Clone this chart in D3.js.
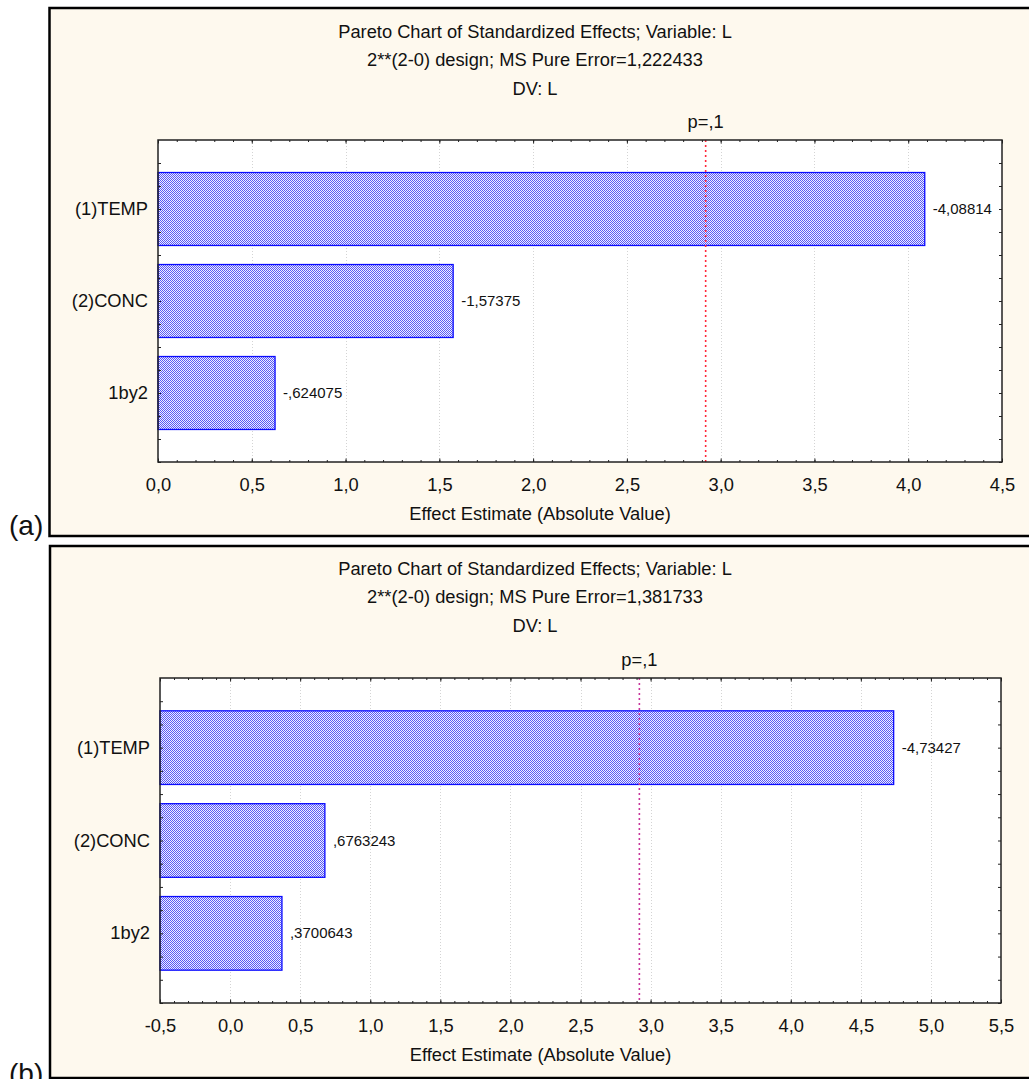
<!DOCTYPE html>
<html>
<head>
<meta charset="utf-8">
<script src="https://cdn.jsdelivr.net/npm/d3@7"></script>
<style>
  html, body { margin: 0; padding: 0; background: #ffffff; }
  svg { display: block; }
  text { font-family: "Liberation Sans", Arial, sans-serif; fill: #111; }
</style>
</head>
<body>
<svg id="chart" width="1029" height="1079"></svg>
<script>
// Effect names, shared by both designs
const categories = ["(1)TEMP", "(2)CONC", "1by2"];

// Design (a): signed effect estimates and MS pure error
const estimatesA = [-4.08814, -1.57375, -0.624075];
const titleA = [
  "Pareto Chart of Standardized Effects; Variable: L",
  "2**(2-0) design; MS Pure Error=1,222433",
  "DV: L"
];
const xDomainA = [0, 4.5];
const xTicksA = [0, 0.5, 1, 1.5, 2, 2.5, 3, 3.5, 4, 4.5];

// Design (b)
const estimatesB = [-4.73427, 0.6763243, 0.3700643];
const titleB = [
  "Pareto Chart of Standardized Effects; Variable: L",
  "2**(2-0) design; MS Pure Error=1,381733",
  "DV: L"
];
const xDomainB = [-0.5, 5.5];
const xTicksB = [-0.5, 0, 0.5, 1, 1.5, 2, 2.5, 3, 3.5, 4, 4.5, 5, 5.5];

// Critical t value for p = .1 (df = 2)
const criticalT = 2.919986;
const pLabel = "p=,1";
const xAxisTitle = "Effect Estimate (Absolute Value)";

const locale = d3.formatLocale({
  decimal: ",", thousands: ".", grouping: [3], currency: ["", ""], minus: "-"
});
const tickFmt = locale.format(".1f");
// Statistica-style value label: comma decimal, no leading zero
const valueFmt = v => String(v).replace(/^(-?)0\./, "$1.").replace(".", ",");

const svg = d3.select("#chart");

// Dithered fill used by the bars
const defs = svg.append("defs");
const pat = defs.append("pattern")
  .attr("id", "dither")
  .attr("patternUnits", "userSpaceOnUse")
  .attr("width", 2).attr("height", 2);
pat.append("rect").attr("width", 2).attr("height", 2).attr("fill", "#eeeeff");
pat.append("rect").attr("x", 0).attr("y", 0).attr("width", 1).attr("height", 1).attr("fill", "#5858f6");
pat.append("rect").attr("x", 1).attr("y", 1).attr("width", 1).attr("height", 1).attr("fill", "#5858f6");

function drawPanel(cfg) {
  const g = svg.append("g");

  // Panel background and frame
  g.append("rect")
    .attr("x", cfg.frame.x).attr("y", cfg.frame.y)
    .attr("width", cfg.frame.w).attr("height", cfg.frame.h)
    .attr("fill", "#fef9ee")
    .attr("stroke", "#000").attr("stroke-width", 2.5);

  const p = cfg.plot;
  const x = d3.scaleLinear().domain(cfg.xDomain).range([p.x, p.x + p.w]);
  const y = d3.scaleLinear().domain([-0.75, categories.length - 0.25]).range([p.y, p.y + p.h]);
  const step = y(1) - y(0);
  const barH = step * 0.793;

  // Titles
  g.selectAll("text.title").data(cfg.title).join("text")
    .attr("class", "title")
    .attr("x", cfg.titleX)
    .attr("y", (d, i) => cfg.titleY + i * 28.5)
    .attr("text-anchor", "middle")
    .attr("font-size", 18.3)
    .text(d => d);

  // Plot area
  g.append("rect")
    .attr("x", p.x).attr("y", p.y).attr("width", p.w).attr("height", p.h)
    .attr("fill", "#ffffff");

  // Dotted grid at major ticks
  g.selectAll("line.grid")
    .data(cfg.xTicks.filter(t => t > cfg.xDomain[0] && t < cfg.xDomain[1]))
    .join("line")
    .attr("class", "grid")
    .attr("x1", d => Math.round(x(d)) + 0.5).attr("x2", d => Math.round(x(d)) + 0.5)
    .attr("y1", p.y).attr("y2", p.y + p.h)
    .attr("stroke", "#d4d4d4").attr("stroke-width", 1)
    .attr("stroke-dasharray", "1,2");

  // Bars (drawn from the left end of the axis to |effect|)
  const rows = categories.map((c, i) => ({ name: c, est: cfg.estimates[i], i }));
  g.selectAll("rect.bar").data(rows).join("rect")
    .attr("class", "bar")
    .attr("x", p.x)
    .attr("y", d => y(d.i) - barH / 2)
    .attr("width", d => x(Math.abs(d.est)) - p.x)
    .attr("height", barH)
    .attr("fill", "url(#dither)")
    .attr("stroke", "#0a0aff").attr("stroke-width", 1.3);

  // Value labels
  g.selectAll("text.val").data(rows).join("text")
    .attr("class", "val")
    .attr("x", d => x(Math.abs(d.est)) + 8)
    .attr("y", d => y(d.i) + 5)
    .attr("font-size", 15)
    .text(d => valueFmt(d.est));

  // Critical value reference line
  g.append("line")
    .attr("x1", x(criticalT)).attr("x2", x(criticalT))
    .attr("y1", p.y).attr("y2", p.y + p.h)
    .attr("stroke", cfg.refColor).attr("stroke-width", 1.6)
    .attr("stroke-dasharray", "2,3");
  g.append("text")
    .attr("x", x(criticalT)).attr("y", p.y - 12)
    .attr("text-anchor", "middle").attr("font-size", 18.3)
    .text(pLabel);

  // Bottom and top axes with inward ticks
  const minor = d3.range(Math.round(cfg.xDomain[0] * 10), Math.round(cfg.xDomain[1] * 10) + 1).map(v => v / 10);
  g.append("g").attr("transform", `translate(0,${p.y + p.h})`)
    .call(d3.axisBottom(x).tickValues(minor).tickSize(-2).tickFormat(""));
  g.append("g").attr("transform", `translate(0,${p.y})`)
    .call(d3.axisTop(x).tickValues(minor).tickSize(-2).tickFormat(""));
  g.append("g").attr("transform", `translate(0,${p.y + p.h})`)
    .call(d3.axisBottom(x).tickValues(cfg.xTicks).tickSize(-3.5).tickPadding(16).tickFormat(tickFmt))
    .call(a => a.selectAll("text").attr("font-size", 18.3).attr("font-family", "Liberation Sans, Arial, sans-serif").attr("fill", "#111"));
  g.append("g").attr("transform", `translate(0,${p.y})`)
    .call(d3.axisTop(x).tickValues(cfg.xTicks).tickSize(-3.5).tickFormat(""));

  // Left and right axes
  const yTicks = d3.range(-0.5, categories.length - 0.25 + 0.001, 0.25);
  g.append("g").attr("transform", `translate(${p.x},0)`)
    .call(d3.axisLeft(y).tickValues(yTicks).tickSize(-3).tickFormat(""));
  g.append("g").attr("transform", `translate(${p.x + p.w},0)`)
    .call(d3.axisRight(y).tickValues(yTicks).tickSize(-3).tickFormat(""));

  g.selectAll(".domain").remove();
  g.selectAll(".tick line").attr("stroke", "#222");

  // Frame of plot area
  g.append("rect")
    .attr("x", p.x).attr("y", p.y).attr("width", p.w).attr("height", p.h)
    .attr("fill", "none").attr("stroke", "#222").attr("stroke-width", 1.5);

  // Category labels
  g.selectAll("text.cat").data(rows).join("text")
    .attr("class", "cat")
    .attr("x", p.x - 10)
    .attr("y", d => y(d.i) + 6)
    .attr("text-anchor", "end").attr("font-size", 18.3)
    .text(d => d.name);

  // Axis title
  g.append("text")
    .attr("x", (p.x + p.x + p.w) / 2 - 40).attr("y", p.y + p.h + 58)
    .attr("text-anchor", "middle").attr("font-size", 18.3)
    .text(xAxisTitle);

  // Panel letter
  svg.append("text")
    .attr("x", 9).attr("y", cfg.letterY)
    .attr("font-size", 28)
    .text(cfg.letter);
}

drawPanel({
  frame: { x: 49.5, y: 8, w: 1010, h: 528 },
  plot: { x: 158, y: 140, w: 844, h: 322 },
  xDomain: xDomainA, xTicks: xTicksA,
  estimates: estimatesA, title: titleA,
  titleX: 535, titleY: 37.5,
  refColor: "#ff2a3c",
  letter: "(a)", letterY: 535
});

drawPanel({
  frame: { x: 50, y: 546, w: 1010, h: 532 },
  plot: { x: 160, y: 678, w: 841, h: 325 },
  xDomain: xDomainB, xTicks: xTicksB,
  estimates: estimatesB, title: titleB,
  titleX: 535, titleY: 574.5,
  refColor: "#c8349a",
  letter: "(b)", letterY: 1083
});
</script>
</body>
</html>
